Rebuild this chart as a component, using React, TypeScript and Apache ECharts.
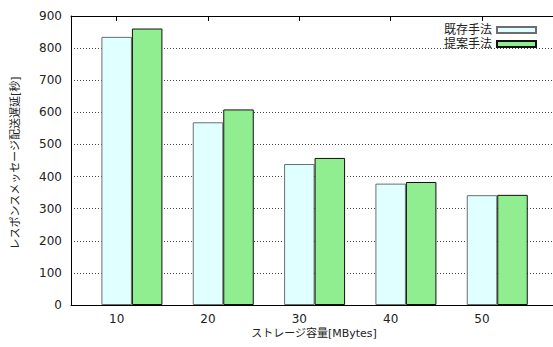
import React, { useEffect, useRef } from "react";
import * as echarts from "echarts";

const categories = ["10", "20", "30", "40", "50", ""];
const existingValues = [835, 569, 439, 378, 342, null];
const proposedValues = [861, 609, 458, 383, 343, null];
const spacerValues = [null, null, null, null, null, null];
const yTicks = { min: 0, max: 900, interval: 100 };
const xAxisTitle = "ストレージ容量[MBytes]";
const yAxisTitle = "レスポンスメッセージ配送遅延[秒]";

const FONT = "DejaVu Sans, 'Noto Sans CJK JP', sans-serif";

export default function App() {
  const ref = useRef<HTMLDivElement>(null);
  useEffect(() => {
    if (!ref.current) return;
    const chart = echarts.init(ref.current, undefined, { renderer: "svg" });
    const axisTextColor = "#222";
    chart.setOption({
      animation: false,
      backgroundColor: "#fff",
      textStyle: { fontFamily: FONT },
      grid: { left: 71, top: 16, width: 548, height: 289, containLabel: false, outerBoundsMode: "none" },
      legend: {
        data: ["既存手法", "提案手法"],
        orient: "vertical",
        right: 11,
        top: 19,
        align: "right",
        itemWidth: 39,
        itemHeight: 6,
        itemGap: 2,
        textStyle: { fontSize: 12, color: axisTextColor, fontFamily: FONT, padding: [0, 0, 0, 0] },
        icon: "rect",
      },
      graphic: [
        {
          type: "text",
          x: 314,
          y: 333,
          style: {
            text: xAxisTitle,
            fontSize: 11,
            fontFamily: FONT,
            fill: axisTextColor,
            textAlign: "center",
            textVerticalAlign: "middle",
          },
        },
        {
          type: "text",
          x: 15,
          y: 163,
          rotation: Math.PI / 2,
          style: {
            text: yAxisTitle,
            fontSize: 11,
            fontFamily: FONT,
            fill: axisTextColor,
            textAlign: "center",
            textVerticalAlign: "middle",
          },
        },
      ],
      xAxis: [
        {
          type: "category",
          data: categories,
          position: "bottom",
          boundaryGap: true,
          axisLine: { lineStyle: { color: "#000", width: 1 } },
          axisTick: { show: true, alignWithLabel: true, inside: true, length: 5, lineStyle: { color: "#000" }, interval: 0 },
          axisLabel: { fontSize: 12, color: axisTextColor, margin: 8, interval: 0 },
          splitLine: { show: false },
        },
        {
          type: "category",
          data: categories,
          position: "top",
          boundaryGap: true,
          axisLine: { lineStyle: { color: "#000", width: 1 } },
          axisTick: { show: true, alignWithLabel: true, inside: true, length: 5, lineStyle: { color: "#000" }, interval: 0 },
          axisLabel: { show: false },
          splitLine: { show: false },
        },
      ],
      yAxis: {
        type: "value",
        min: yTicks.min,
        max: yTicks.max,
        interval: yTicks.interval,
        axisLine: { show: true, lineStyle: { color: "#000", width: 1 } },
        axisTick: { show: false },
        axisLabel: { fontSize: 12, color: axisTextColor, margin: 9 },
        splitLine: { show: true, lineStyle: { color: "#444", type: [1, 2], width: 1 } },
      },
      series: [
        {
          name: "spacer",
          type: "bar",
          xAxisIndex: 0,
          data: spacerValues,
          barWidth: 30.5,
          barGap: "0%",
          itemStyle: { color: "transparent" },
        },
        {
          name: "既存手法",
          type: "bar",
          xAxisIndex: 0,
          data: existingValues,
          barWidth: 30.5,
          barGap: "0%",
          itemStyle: { color: "#e0ffff", borderColor: "#6e6e6e", borderWidth: 1 },
        },
        {
          name: "提案手法",
          type: "bar",
          xAxisIndex: 0,
          data: proposedValues,
          barWidth: 30.5,
          barGap: "0%",
          itemStyle: { color: "#90ee90", borderColor: "#111", borderWidth: 1 },
        },
      ],
    });
    return () => chart.dispose();
  }, []);
  return <div ref={ref} style={{ width: 553, height: 347, position: "absolute", left: 0, top: 0 }} />;
}
